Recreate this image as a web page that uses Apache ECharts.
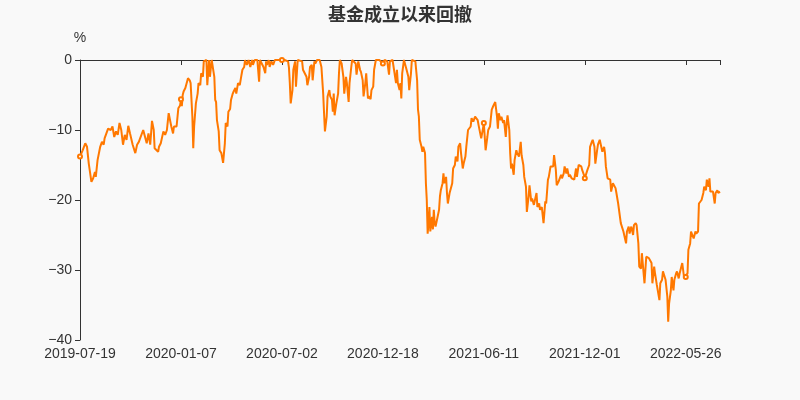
<!DOCTYPE html>
<html>
<head>
<meta charset="utf-8">
<script src="https://cdn.jsdelivr.net/npm/echarts@6/dist/echarts.min.js"></script>
<style>html,body{margin:0;padding:0;background:#f9f9f9;}#chart{width:800px;height:400px;}</style>
</head>
<body>
<div id="chart"></div>
<script>
// ---- data ----
const titleText = '基金成立以来回撤';
const unitName = '%';
const firstDate = '2019-07-19';
const categoryCount = 730;
// exchange closed weekdays (holidays) in the period, plus a day without NAV
const closedDays = [
  '2019-07-22',
  '2019-10-01','2019-10-02','2019-10-03','2019-10-04','2019-10-07',
  '2020-01-01','2020-01-24','2020-01-27','2020-01-28','2020-01-29','2020-01-30','2020-01-31',
  '2020-04-06','2020-05-01','2020-05-04','2020-05-05','2020-06-25','2020-06-26',
  '2020-10-01','2020-10-02','2020-10-05','2020-10-06','2020-10-07','2020-10-08',
  '2021-01-01','2021-02-11','2021-02-12','2021-02-15','2021-02-16','2021-02-17',
  '2021-04-05','2021-05-03','2021-05-04','2021-05-05','2021-06-14','2021-09-20','2021-09-21',
  '2021-10-01','2021-10-04','2021-10-05','2021-10-06','2021-10-07',
  '2022-01-03','2022-01-31','2022-02-01','2022-02-02','2022-02-03','2022-02-04',
  '2022-04-04','2022-04-05','2022-05-02','2022-05-03','2022-05-04','2022-06-03'
];
const yTicks = [-40, -30, -20, -10, 0];
// [trading-day index, drawdown %]
const drawdown = [
[0,-13.8],[3,-12.9],[6,-11.9],[8,-12.4],[10,-14.8],[13,-17.4],[15,-16.9],[17,-16.0],[18,-16.7],[20,-14.3],
[23,-12.4],[25,-11.7],[27,-12.1],[28,-11.2],[30,-11.4],[32,-9.8],[35,-10.0],[37,-9.5],[39,-11.0],[41,-10.2],
[43,-10.7],[45,-9.0],[47,-10.0],[49,-12.1],[51,-10.7],[53,-11.4],[55,-9.4],[57,-10.5],[60,-12.1],[63,-13.3],
[65,-12.1],[67,-11.7],[69,-11.9],[72,-10.0],[74,-10.2],[76,-11.9],[78,-10.5],[80,-12.1],[82,-8.7],[84,-10.0],
[85,-12.6],[89,-13.1],[90,-12.4],[92,-11.9],[95,-10.2],[97,-10.7],[99,-10.0],[101,-7.6],[104,-9.5],[106,-10.5],
[107,-9.5],[110,-9.5],[112,-6.9],[114,-6.5],[115,-5.6],[116,-6.6],[117,-5.0],[118,-4.5],[120,-4.0],[122,-4.0],
[123,-2.6],[125,-2.9],[126,-3.3],[128,-8.1],[129,-12.6],[130,-9.5],[132,-6.2],[134,-4.8],[135,-3.3],[137,-3.6],
[138,-1.9],[140,-2.4],[141,-0.2],[142,0],[144,0],[145,-3.6],[147,0],[148,-2.4],[150,0],[151,0],
[153,-2.4],[154,-5.7],[155,-6.0],[156,-8.6],[158,-10.2],[159,-12.9],[161,-13.3],[162,-13.1],[163,-14.7],[165,-11.9],
[166,-9.0],[168,-9.5],[169,-7.4],[171,-7.0],[172,-5.7],[174,-4.8],[175,-4.5],[177,-4.0],[178,-4.8],[180,-3.3],
[182,-3.6],[184,-2.1],[185,-1.4],[187,-1.0],[188,0],[190,-0.7],[192,0],[194,-1.0],[196,0],[197,-0.7],
[199,0],[202,0],[204,-3.1],[205,0],[207,0],[209,-1.0],[211,-1.9],[212,-0.2],[213,-0.7],[215,0],
[216,-1.0],[218,-0.2],[220,-0.7],[222,0],[224,0],[228,0],[230,0],[233,0],[237,-0.2],[238,-1.1],
[239,-3.3],[240,-6.2],[242,-4.3],[243,-1.4],[245,-0.2],[246,-3.8],[248,0],[250,0],[253,-0.2],[254,-1.4],
[256,-1.2],[258,-2.4],[259,-3.6],[261,-2.4],[262,-1.0],[264,-0.7],[265,-2.9],[267,-0.2],[268,-0.5],[270,0],
[273,0],[275,-1.0],[277,-4.8],[278,-7.6],[279,-10.2],[281,-8.1],[282,-5.2],[284,-4.3],[285,-5.2],[287,-5.7],
[288,-7.4],[289,-4.8],[290,-7.9],[292,-6.2],[294,-4.8],[295,-1.9],[296,0],[298,-0.5],[300,-2.4],[301,-4.8],
[303,-2.4],[304,-3.3],[306,-6.0],[307,-3.3],[309,-1.0],[310,0],[312,0],[314,-0.5],[315,-2.1],[317,-0.2],
[319,-1.4],[320,-1.7],[322,-2.9],[323,-5.2],[325,-3.3],[326,-1.9],[328,-5.5],[329,-5.2],[331,-5.6],[332,-4.3],
[334,-3.8],[335,-1.4],[337,0],[341,0],[345,-0.5],[347,0],[350,-0.2],[352,-2.1],[353,-0.2],[356,0],
[357,-0.2],[358,0],[360,-3.3],[361,-1.4],[362,-3.3],[364,-4.3],[365,-3.3],[366,-5.5],[367,-1.9],[369,0],
[370,0],[372,-1.4],[374,-2.4],[375,-4.3],[377,-1.9],[378,0],[380,0],[382,-0.2],[384,-2.9],[385,-7.1],
[386,-8.1],[387,-11.4],[389,-12.4],[390,-13.1],[391,-12.4],[393,-13.3],[394,-17.6],[395,-20.0],[396,-24.8],[397,-23.3],
[398,-21.0],[399,-24.5],[401,-22.4],[402,-24.2],[403,-21.4],[404,-23.3],[405,-23.8],[407,-23.6],[409,-21.4],[410,-19.5],
[411,-18.6],[413,-17.6],[414,-16.2],[415,-17.6],[417,-16.7],[418,-19.0],[419,-20.5],[421,-19.0],[422,-18.8],[424,-17.6],
[425,-15.5],[427,-15.0],[428,-13.8],[430,-14.5],[431,-12.4],[433,-11.9],[434,-13.3],[436,-15.5],[437,-14.8],[439,-13.8],
[440,-12.4],[442,-10.0],[443,-9.8],[445,-9.5],[446,-8.3],[448,-8.8],[450,-8.1],[451,-7.9],[453,-8.6],[454,-9.3],
[456,-9.5],[457,-11.2],[459,-9.8],[460,-9.0],[462,-12.9],[464,-11.0],[465,-10.0],[467,-9.5],[469,-7.1],[471,-6.5],
[473,-6.0],[475,-8.1],[476,-9.8],[477,-7.6],[479,-8.6],[480,-8.1],[482,-9.0],[483,-8.6],[485,-11.0],[486,-9.0],
[487,-7.9],[489,-10.0],[490,-13.3],[491,-15.5],[492,-14.8],[494,-16.4],[495,-14.3],[497,-12.9],[498,-13.3],[500,-13.8],
[502,-11.7],[503,-13.6],[505,-15.0],[506,-16.7],[508,-18.1],[509,-21.7],[511,-19.5],[512,-17.9],[514,-20.2],[515,-19.8],
[517,-20.7],[518,-20.5],[520,-19.0],[521,-21.0],[523,-20.5],[524,-21.4],[526,-21.0],[528,-23.3],[530,-20.2],[531,-20.5],
[533,-17.1],[534,-16.7],[536,-15.2],[537,-15.0],[539,-15.2],[540,-13.6],[542,-15.7],[543,-17.9],[545,-17.4],[546,-17.6],
[548,-16.4],[549,-16.9],[551,-16.2],[552,-15.2],[554,-16.2],[555,-15.5],[557,-16.7],[558,-16.4],[560,-16.9],[562,-16.7],
[563,-17.1],[565,-15.5],[566,-16.7],[568,-15.0],[569,-15.0],[571,-15.2],[572,-15.7],[574,-16.4],[575,-16.9],[577,-16.7],
[578,-15.7],[580,-15.0],[581,-12.4],[583,-11.7],[584,-11.4],[586,-12.4],[587,-14.8],[589,-12.9],[590,-12.1],[592,-11.4],
[594,-11.4],[595,-13.1],[597,-12.4],[598,-13.3],[599,-15.2],[601,-16.9],[602,-16.7],[604,-17.1],[605,-18.8],[607,-17.6],
[608,-17.8],[610,-18.3],[611,-19.0],[613,-20.5],[614,-20.5],[616,-23.3],[617,-23.1],[619,-24.5],[620,-24.3],[622,-26.2],
[623,-24.5],[625,-23.8],[626,-24.8],[628,-23.8],[630,-25.0],[631,-23.6],[633,-23.3],[634,-23.6],[636,-26.2],[637,-29.5],
[639,-29.8],[640,-27.6],[642,-27.6],[643,-31.9],[645,-28.1],[646,-28.1],[648,-28.3],[649,-28.1],[651,-29.0],[652,-31.9],
[654,-29.5],[655,-30.5],[657,-32.1],[658,-31.9],[660,-34.3],[661,-31.9],[663,-31.4],[664,-30.2],[666,-30.2],[667,-31.4],
[669,-33.8],[670,-37.4],[671,-34.8],[673,-32.9],[674,-31.0],[676,-32.9],[677,-31.4],[679,-30.5],[680,-30.2],[682,-31.2],
[683,-30.5],[685,-30.7],[686,-29.0],[688,-31.0],[690,-31.0],[692,-30.5],[693,-27.1],[695,-26.2],[696,-24.5],[698,-24.3],
[699,-25.5],[701,-24.5],[702,-24.8],[704,-24.5],[705,-20.5],[707,-20.7],[708,-20.0],[710,-19.0],[711,-18.1],[713,-18.6],
[714,-17.1],[716,-18.1],[717,-16.9],[718,-18.8],[720,-18.6],[721,-18.8],[723,-20.5],[724,-19.0],[726,-18.6],[727,-19.0],
[729,-18.8]
];

// ---- build trading-day categories ----
function buildDates(start, count, closed) {
  const skip = new Set(closed);
  const out = [];
  const d = new Date(start + 'T00:00:00Z');
  while (out.length < count) {
    const wd = d.getUTCDay();
    const s = d.toISOString().slice(0, 10);
    if (wd !== 0 && wd !== 6 && !skip.has(s)) out.push(s);
    d.setUTCDate(d.getUTCDate() + 1);
  }
  return out;
}
const dates = buildDates(firstDate, categoryCount, closedDays);
const labelStep = 115;

const chart = echarts.init(document.getElementById('chart'));
const FONT = '"Liberation Sans", Arial, sans-serif';
const LINE_COLOR = '#ff7800';
chart.setOption({
  backgroundColor: '#f9f9f9',
  animation: false,
  title: {
    text: titleText,
    left: 'center',
    top: 0,
    textStyle: { fontSize: 18, fontWeight: 'bold', color: '#333', fontFamily: '"Noto Sans CJK SC", sans-serif' }
  },
  grid: { left: 80, right: 80, top: 60, bottom: 60 },
  xAxis: {
    type: 'category',
    data: dates,
    boundaryGap: false,
    axisLine: { onZero: true, lineStyle: { color: '#333' } },
    axisTick: { show: true, interval: (i) => i % labelStep === 0 || i === categoryCount - 1, lineStyle: { color: '#333' } },
    axisLabel: { interval: labelStep - 1, color: '#333', fontSize: 14, fontFamily: FONT, margin: 7 },
    splitLine: { show: false }
  },
  yAxis: {
    type: 'value',
    name: unitName,
    nameTextStyle: { color: '#333', fontSize: 14, fontFamily: FONT },
    min: yTicks[0],
    max: yTicks[yTicks.length - 1],
    interval: 10,
    axisLine: { show: true, lineStyle: { color: '#333' } },
    axisTick: { show: true, lineStyle: { color: '#333' } },
    axisLabel: {
      color: '#333', fontSize: 14, fontFamily: FONT,
      formatter: (v) => String(v).replace('-', '\u2212')
    },
    splitLine: { show: false }
  },
  series: [{
    type: 'line',
    data: drawdown,
    symbol: 'emptyCircle',
    symbolSize: 4,
    showAllSymbol: 'auto',
    lineStyle: { color: LINE_COLOR, width: 2 },
    itemStyle: { color: LINE_COLOR, borderWidth: 1 }
  }]
});
</script>
</body>
</html>
